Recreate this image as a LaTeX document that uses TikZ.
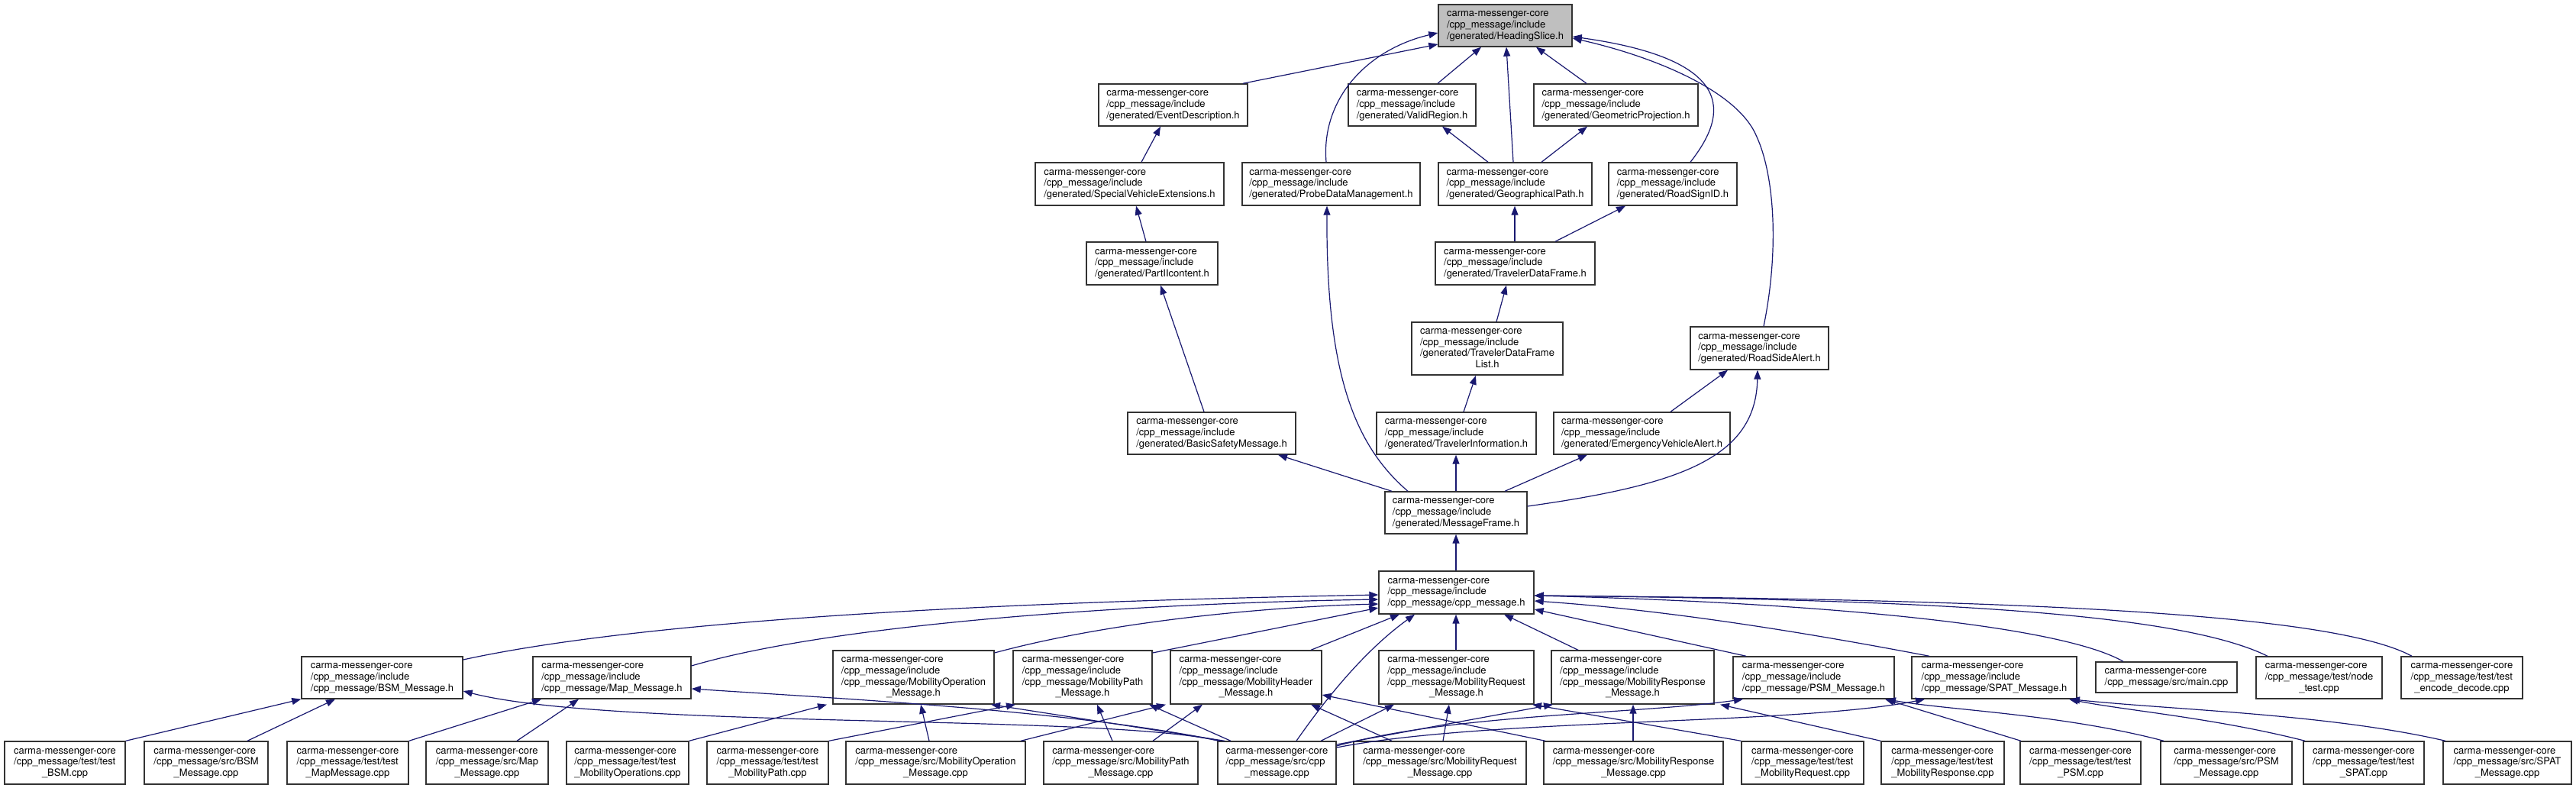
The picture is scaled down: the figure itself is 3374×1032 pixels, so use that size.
\documentclass[tikz,border=0pt]{standalone}
\usepackage{fontspec}
\setmainfont{TeX Gyre Heros}
\usetikzlibrary{arrows.meta}
\definecolor{edgec}{HTML}{191970}
\definecolor{hsfill}{HTML}{BFBFBF}
\newcommand\tb[2]{\begin{tabular}{@{}l@{}}#1\\\multicolumn{1}{@{}c@{}}{#2}\end{tabular}}
\newcommand\bx[7][]{\node[box,#1,minimum width={(#5-#3)*1pt},minimum height={(#6-#4)*1pt}] (#2) at ({(#3+#5)/2},{(#4+#6)/2}) {#7};}
\begin{document}
\begin{tikzpicture}[x=1pt,y=-1pt,
  box/.style={draw=black!80,line width=1.4pt,fill=white,inner sep=0pt,font=\fontsize{13}{14.7}\selectfont},
  edge/.style={draw=edgec,line width=1.2pt,-{Triangle[length=12pt,width=9pt]}}]
\fill[white] (0,0) rectangle (3374,1032);
\useasboundingbox (0,0) rectangle (3374,1032);
% ---------- top part ----------
\bx[fill=hsfill]{hs}{1884}{6}{2059}{61}{\tb{carma-messenger-core\\/cpp\_message/include}{/generated/HeadingSlice.h}}
\bx{ed}{1439}{110}{1634}{165}{\tb{carma-messenger-core\\/cpp\_message/include}{/generated/EventDescription.h}}
\bx{vr}{1766}{110}{1933}{165}{\tb{carma-messenger-core\\/cpp\_message/include}{/generated/ValidRegion.h}}
\bx{gproj}{2009}{110}{2224}{165}{\tb{carma-messenger-core\\/cpp\_message/include}{/generated/GeometricProjection.h}}
\bx{sve}{1356}{213}{1603}{269}{\tb{carma-messenger-core\\/cpp\_message/include}{/generated/SpecialVehicleExtensions.h}}
\bx{pdm}{1627}{213}{1860}{269}{\tb{carma-messenger-core\\/cpp\_message/include}{/generated/ProbeDataManagement.h}}
\bx{gpath}{1884}{213}{2085}{269}{\tb{carma-messenger-core\\/cpp\_message/include}{/generated/GeographicalPath.h}}
\bx{rsid}{2107}{213}{2275}{269}{\tb{carma-messenger-core\\/cpp\_message/include}{/generated/RoadSignID.h}}
\bx{piic}{1423}{317}{1595}{373}{\tb{carma-messenger-core\\/cpp\_message/include}{/generated/PartIIcontent.h}}
\bx{tdf}{1880}{317}{2089}{373}{\tb{carma-messenger-core\\/cpp\_message/include}{/generated/TravelerDataFrame.h}}
\bx{tdfl}{1849}{422}{2047}{491}{\tb{carma-messenger-core\\/cpp\_message/include\\/generated/TravelerDataFrame}{List.h}}
\bx{rsa}{2214}{428}{2395}{484}{\tb{carma-messenger-core\\/cpp\_message/include}{/generated/RoadSideAlert.h}}
\bx{bsafe}{1477}{540}{1697}{595}{\tb{carma-messenger-core\\/cpp\_message/include}{/generated/BasicSafetyMessage.h}}
\bx{ti}{1803}{540}{2012}{595}{\tb{carma-messenger-core\\/cpp\_message/include}{/generated/TravelerInformation.h}}
\bx{eva}{2035}{540}{2266}{595}{\tb{carma-messenger-core\\/cpp\_message/include}{/generated/EmergencyVehicleAlert.h}}
\bx{mf}{1814}{644}{2000}{699}{\tb{carma-messenger-core\\/cpp\_message/include}{/generated/MessageFrame.h}}
\bx{cpph}{1806}{748}{2009}{804}{\tb{carma-messenger-core\\/cpp\_message/include}{/cpp\_message/cpp\_message.h}}
% ---------- middle row ----------
\bx{bsmh}{395}{860}{606}{915}{\tb{carma-messenger-core\\/cpp\_message/include}{/cpp\_message/BSM\_Message.h}}
\bx{maph}{698}{860}{905}{915}{\tb{carma-messenger-core\\/cpp\_message/include}{/cpp\_message/Map\_Message.h}}
\bx{mobopsh}{1091}{852}{1302}{922}{\tb{carma-messenger-core\\/cpp\_message/include\\/cpp\_message/MobilityOperation}{\_Message.h}}
\bx{mobpathh}{1327}{852}{1509}{922}{\tb{carma-messenger-core\\/cpp\_message/include\\/cpp\_message/MobilityPath}{\_Message.h}}
\bx{mobheadh}{1533}{852}{1731}{922}{\tb{carma-messenger-core\\/cpp\_message/include\\/cpp\_message/MobilityHeader}{\_Message.h}}
\bx{mobreqh}{1806}{852}{2009}{922}{\tb{carma-messenger-core\\/cpp\_message/include\\/cpp\_message/MobilityRequest}{\_Message.h}}
\bx{mobresph}{2032}{852}{2245}{922}{\tb{carma-messenger-core\\/cpp\_message/include\\/cpp\_message/MobilityResponse}{\_Message.h}}
\bx{psmh}{2270}{860}{2481}{915}{\tb{carma-messenger-core\\/cpp\_message/include}{/cpp\_message/PSM\_Message.h}}
\bx{spath}{2504}{860}{2720}{915}{\tb{carma-messenger-core\\/cpp\_message/include}{/cpp\_message/SPAT\_Message.h}}
\bx{maincpp}{2745}{867}{2930}{907}{\tb{carma-messenger-core}{/cpp\_message/src/main.cpp}}
\bx{nodetest}{2955}{860}{3120}{915}{\tb{carma-messenger-core\\/cpp\_message/test/node}{\_test.cpp}}
\bx{encdec}{3145}{860}{3304}{915}{\tb{carma-messenger-core\\/cpp\_message/test/test}{\_encode\_decode.cpp}}
% ---------- bottom row ----------
\bx{testbsm}{6}{971}{164}{1027}{\tb{carma-messenger-core\\/cpp\_message/test/test}{\_BSM.cpp}}
\bx{bsmcpp}{189}{971}{351}{1027}{\tb{carma-messenger-core\\/cpp\_message/src/BSM}{\_Message.cpp}}
\bx{testmap}{376}{971}{535}{1027}{\tb{carma-messenger-core\\/cpp\_message/test/test}{\_MapMessage.cpp}}
\bx{mapcpp}{558}{971}{718}{1027}{\tb{carma-messenger-core\\/cpp\_message/src/Map}{\_Message.cpp}}
\bx{testmobops}{742}{971}{902}{1027}{\tb{carma-messenger-core\\/cpp\_message/test/test}{\_MobilityOperations.cpp}}
\bx{testmobpath}{926}{971}{1085}{1027}{\tb{carma-messenger-core\\/cpp\_message/test/test}{\_MobilityPath.cpp}}
\bx{mobopcpp}{1108}{971}{1343}{1027}{\tb{carma-messenger-core\\/cpp\_message/src/MobilityOperation}{\_Message.cpp}}
\bx{mobpathcpp}{1367}{971}{1569}{1027}{\tb{carma-messenger-core\\/cpp\_message/src/MobilityPath}{\_Message.cpp}}
\bx{cppcpp}{1595}{971}{1750}{1027}{\tb{carma-messenger-core\\/cpp\_message/src/cpp}{\_message.cpp}}
\bx{mobreqcpp}{1773}{971}{1999}{1027}{\tb{carma-messenger-core\\/cpp\_message/src/MobilityRequest}{\_Message.cpp}}
\bx{mobrespcpp}{2022}{971}{2257}{1027}{\tb{carma-messenger-core\\/cpp\_message/src/MobilityResponse}{\_Message.cpp}}
\bx{testmobreq}{2281}{971}{2441}{1027}{\tb{carma-messenger-core\\/cpp\_message/test/test}{\_MobilityRequest.cpp}}
\bx{testmobresp}{2464}{971}{2625}{1027}{\tb{carma-messenger-core\\/cpp\_message/test/test}{\_MobilityResponse.cpp}}
\bx{testpsm}{2646}{971}{2804}{1027}{\tb{carma-messenger-core\\/cpp\_message/test/test}{\_PSM.cpp}}
\bx{psmcpp}{2830}{971}{3002}{1027}{\tb{carma-messenger-core\\/cpp\_message/src/PSM}{\_Message.cpp}}
\bx{testspat}{3017}{971}{3175}{1027}{\tb{carma-messenger-core\\/cpp\_message/test/test}{\_SPAT.cpp}}
\bx{spatcpp}{3200}{971}{3368}{1027}{\tb{carma-messenger-core\\/cpp\_message/src/SPAT}{\_Message.cpp}}
% ---------- edges: top ----------
\draw[edge] (1628,0 |- ed.north) -- (hs.west |- 0,58);
\draw[edge] (1737,0 |- pdm.north) .. controls (1730,130) and (1790,65) .. (hs.west |- 0,43);
\draw[edge] (1883,0 |- vr.north) -- (1940,0 |- hs.south);
\draw[edge] (1982,0 |- gpath.north) -- (1973,0 |- hs.south);
\draw[edge] (2078,0 |- gproj.north) -- (2012,0 |- hs.south);
\draw[edge] (2214,0 |- rsid.north) .. controls (2255,160) and (2290,80) .. (hs.east |- 0,48);
\draw[edge] (2310,0 |- rsa.north) .. controls (2330,330) and (2325,230) .. (2300,177) .. controls (2275,120) and (2170,75) .. (hs.east |- 0,50);
\draw[edge] (1495,0 |- sve.north) -- (1520,0 |- ed.south);
\draw[edge] (1501,0 |- piic.north) -- (1488,0 |- sve.south);
\draw[edge] (1577,0 |- bsafe.north) -- (1520,0 |- piic.south);
\draw[edge] (1949,0 |- gpath.north) -- (1889,0 |- vr.south);
\draw[edge] (2019,0 |- gpath.north) -- (2079,0 |- gproj.south);
\draw[edge] (1984,0 |- tdf.north) -- (1984,0 |- gpath.south);
\draw[edge] (2037,0 |- tdf.north) -- (2129,0 |- rsid.south);
\draw[edge] (1960,0 |- tdfl.north) -- (1973,0 |- tdf.south);
\draw[edge] (1917,0 |- ti.north) -- (1933,0 |- tdfl.south);
\draw[edge] (2188,0 |- eva.north) -- (2263,0 |- rsa.south);
\draw[edge] (1823,0 |- mf.north) -- (1674,0 |- bsafe.south);
\draw[edge] (1844,0 |- mf.north) .. controls (1770,580) and (1737,480) .. (1738,0 |- pdm.south);
\draw[edge] (1907,0 |- mf.north) -- (1907,0 |- ti.south);
\draw[edge] (1971,0 |- mf.north) -- (2079,0 |- eva.south);
\draw[edge] (mf.east |- 0,663) .. controls (2200,635) and (2300,600) .. (2302,0 |- rsa.south);
\draw[edge] (1907,0 |- cpph.north) -- (1907,0 |- mf.south);
% ---------- edges into cpp_message.h ----------
\draw[edge] (bsmh.east |- 0,864) .. controls (900,800) and (1500,785) .. (cpph.west |- 0,779);
\draw[edge] (maph.east |- 0,872) .. controls (1100,815) and (1500,790) .. (cpph.west |- 0,785);
\draw[edge] (mobopsh.east |- 0,855) .. controls (1450,815) and (1650,795) .. (cpph.west |- 0,791);
\draw[edge] (mobpathh.east |- 0,855) -- (cpph.west |- 0,796);
\draw[edge] (1717,0 |- mobheadh.north) -- (1833,0 |- cpph.south);
\draw[edge] (1698,0 |- cppcpp.north) .. controls (1740,910) and (1790,850) .. (1853,0 |- cpph.south);
\draw[edge] (1907,0 |- mobreqh.north) -- (1907,0 |- cpph.south);
\draw[edge] (2067,0 |- mobresph.north) -- (1970,0 |- cpph.south);
\draw[edge] (2287,0 |- psmh.north) -- (cpph.east |- 0,798);
\draw[edge] (2527,0 |- spath.north) .. controls (2400,835) and (2200,800) .. (cpph.east |- 0,787);
\draw[edge] (2781,0 |- maincpp.north) .. controls (2700,820) and (2400,790) .. (cpph.east |- 0,780);
\draw[edge] (2970,0 |- nodetest.north) .. controls (2850,800) and (2500,785) .. (cpph.east |- 0,780);
\draw[edge] (3159,0 |- encdec.north) .. controls (3050,800) and (2600,785) .. (cpph.east |- 0,780);
% ---------- bottom edges ----------
\draw[edge] (testbsm.north east) -- (bsmh.south west);
\draw[edge] (324,0 |- bsmcpp.north) -- (439,0 |- bsmh.south);
\draw[edge] (testmap.north east) -- (709,0 |- maph.south);
\draw[edge] (677,0 |- mapcpp.north) -- (758,0 |- maph.south);
\draw[edge] (testmobops.north east) -- (1083,0 |- mobopsh.south);
\draw[edge] (testmobpath.north east) -- (1330,0 |- mobpathh.south);
\draw[edge] (1217,0 |- mobopcpp.north) -- (1206,0 |- mobopsh.south);
\draw[edge] (1337,0 |- mobopcpp.north) -- (1527,0 |- mobheadh.south);
\draw[edge] (1457,0 |- mobpathcpp.north) -- (1437,0 |- mobpathh.south);
\draw[edge] (1510,0 |- mobpathcpp.north) -- (1575,0 |- mobheadh.south);
\draw[edge] (1612,0 |- cppcpp.north) -- (1505,0 |- mobpathh.south);
\draw[edge] (1604,0 |- cppcpp.north) -- (1298,0 |- mobopsh.south);
\draw[edge] (1598,0 |- cppcpp.north) .. controls (1400,930) and (1100,915) .. (maph.east |- 0,902);
\draw[edge] (1596,0 |- cppcpp.north) .. controls (1450,935) and (800,955) .. (bsmh.east |- 0,905);
\draw[edge] (1730,0 |- cppcpp.north) -- (1826,0 |- mobreqh.south);
\draw[edge] (cppcpp.east |- 0,975) -- (2034,0 |- mobresph.south);
\draw[edge] (cppcpp.east |- 0,977) .. controls (1900,935) and (2150,935) .. (2283,0 |- psmh.south);
\draw[edge] (cppcpp.east |- 0,979) .. controls (1950,940) and (2350,950) .. (2521,0 |- spath.south);
\draw[edge] (1823,0 |- mobreqcpp.north) -- (1717,0 |- mobheadh.south);
\draw[edge] (1890,0 |- mobreqcpp.north) -- (1898,0 |- mobreqh.south);
\draw[edge] (2024,0 |- mobrespcpp.north) -- (mobheadh.east |- 0,910);
\draw[edge] (2139,0 |- mobrespcpp.north) -- (2139,0 |- mobresph.south);
\draw[edge] (testmobreq.north west) -- (2007,0 |- mobreqh.south);
\draw[edge] (testmobresp.north west) -- (2253,0 |- mobresph.south);
\draw[edge] (2647,0 |- testpsm.north) -- (2469,0 |- psmh.south);
\draw[edge] (2834,0 |- psmcpp.north) .. controls (2700,935) and (2550,930) .. (2471,0 |- psmh.south);
\draw[edge] (3019,0 |- testspat.north) .. controls (2900,940) and (2780,930) .. (2710,0 |- spath.south);
\draw[edge] (3203,0 |- spatcpp.north) .. controls (3050,935) and (2850,930) .. (2712,0 |- spath.south);
\end{tikzpicture}
\end{document}
